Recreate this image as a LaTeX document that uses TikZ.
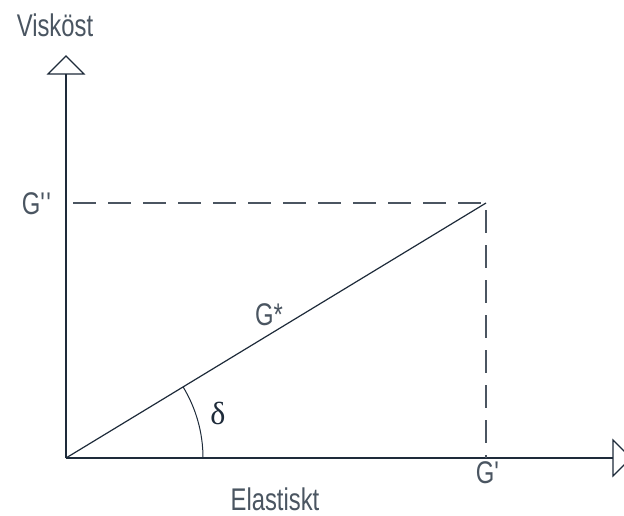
\documentclass[tikz,border=0pt]{standalone}
\usepackage{fontspec}
\usetikzlibrary{calc}
\setmainfont{Liberation Sans}[FakeStretch=0.76]
\newfontfamily\deltafont{Liberation Serif}
\definecolor{ink}{HTML}{1E2B3A}
\definecolor{txt}{HTML}{4A5561}
\begin{document}
\begin{tikzpicture}[x=0.75pt,y=-0.75pt,
  axis/.style={draw=ink,line width=0.9pt},
  dline/.style={draw=ink!80,line width=0.9pt,dash pattern=on 17.25pt off 9pt,dash phase=-5.5pt},
  lbl/.style={text=txt,font=\fontsize{23.5}{25}\selectfont,inner sep=0pt}]
\useasboundingbox[fill=white] (0,0) rectangle (624,515);
\coordinate (O) at (66,458);
\coordinate (Yb) at (66,74);
\coordinate (Xb) at (613,458);
\coordinate (P) at (486,203);
\coordinate (Gy) at (66,203);
\coordinate (Gx) at (486,458);
% axes
\draw[axis] (O) -- (Yb);
\draw[axis] (O) -- (Xb);
\draw[axis,line join=miter] (Yb) -- ++(-18,0) -- ++(18,-18) -- ++(18,18) -- cycle;
\draw[axis,line join=miter] (Xb) -- ++(0,-18) -- ++(18,18) -- ++(-18,18) -- cycle;
% vector
\draw[axis] (O) -- (P);
\draw[dline] (Gy) -- (P);
\draw[dline] (P) -- (Gx);
% angle arc
\draw[axis,line width=0.75pt] ($(O)+(137,0)$) arc[start angle=0,end angle=-31.3,radius=137];
% labels
\node[lbl] (tv) at (55,25) {Visköst};
\node[lbl] (tgpp) at (37,204) {G\textquotesingle\textquotesingle};
\node[lbl] (tgs) at (269,315) {G*};
\node[text=ink,font=\deltafont\fontsize{24}{26}\selectfont,inner sep=0pt] (td) at (218,413) {δ};
\node[lbl] (tgp) at (488,473) {G\textquotesingle};
\node[lbl] (te) at (275,499) {Elastiskt};
\end{tikzpicture}
\end{document}
